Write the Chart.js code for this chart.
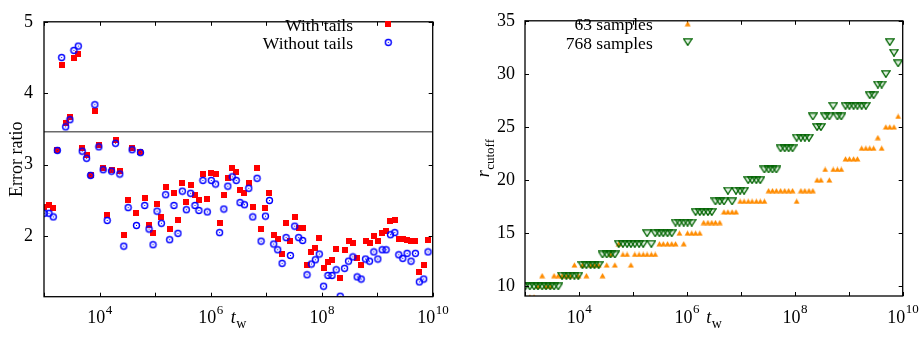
<!DOCTYPE html>
<html>
<head>
<meta charset="utf-8">
<style>
    body { margin: 0; background: #fff; }
    .panel { position: absolute; top: 0; width: 462px; height: 337px; }
</style>
</head>
<body>
<div class="panel" style="left: 0;"><canvas id="ratio_chart" width="462" height="337"></canvas></div>
<div class="panel" style="left: 462px;"><canvas id="cutoff_chart" width="462" height="337"></canvas></div>

<script src="https://cdn.jsdelivr.net/npm/chart.js"></script>

<script>
    // log10 of the waiting time t_w for every measurement
    var logTw = [3.005, 3.09, 3.167, 3.24, 3.318, 3.39, 3.467, 3.539, 3.617, 3.688, 3.767, 3.839, 3.916, 3.988,
        4.065, 4.138, 4.216, 4.288, 4.365, 4.437, 4.515, 4.586, 4.665, 4.737, 4.814, 4.892, 4.963,
        5.035, 5.114, 5.191, 5.263, 5.341, 5.413, 5.491, 5.563, 5.641, 5.719, 5.79, 5.862, 5.941,
        6.012, 6.09, 6.162, 6.239, 6.311, 6.39, 6.462, 6.53, 6.61, 6.688, 6.76, 6.838, 6.91, 6.988,
        7.06, 7.137, 7.209, 7.288, 7.36, 7.437, 7.515, 7.586, 7.658, 7.737, 7.814, 7.886, 7.958,
        8.035, 8.114, 8.186, 8.263, 8.335, 8.413, 8.484, 8.563, 8.64, 8.712, 8.79, 8.862, 8.94,
        9.012, 9.09, 9.161, 9.239, 9.317, 9.389, 9.461, 9.539, 9.61, 9.688, 9.76, 9.838, 9.916];

    // error ratio
    var withTails = [2.41, 2.44, 2.39, 3.2, 4.40, 3.58, 3.67, 4.49, 4.55, 3.23, 3.13, 2.85, 3.75, 3.27,
        2.96, 2.30, 2.92, 3.35, 2.91, 2.01, 2.50, 3.24, 2.32, 3.18, 2.54, 2.16, 2.04,
        2.45, 2.27, 2.69, 2.10, 2.60, 2.23, 2.74, 2.48, 2.71, 2.58, 2.51, 2.87, 2.52,
        2.89, 2.87, 2.18, 2.57, 2.82, 2.95, 2.90, 2.64, 2.60, 2.75, 2.41, 2.95, 2.10, 2.39,
        2.61, 2.02, 1.96, 1.75, 2.19, 1.93, 2.27, 2.12, 2.11, 1.60, 1.78, 1.83, 1.98,
        1.56, 1.64, 1.67, 1.82, 1.41, 1.80, 1.93, 1.91, 1.69, 1.60, 1.93, 1.91, 2.00,
        1.93, 2.04, 2.07, 2.21, 2.23, 1.96, 1.96, 1.95, 1.93, 1.93, 1.50, 1.60, 1.94];
    var withoutTails = [2.32, 2.32, 2.27, 3.2, 4.50, 3.53, 3.63, 4.60, 4.66, 3.19, 3.09, 2.85, 3.84, 3.25,
        2.93, 2.22, 2.91, 3.30, 2.87, 1.86, 2.40, 3.21, 2.15, 3.17, 2.43, 2.10, 1.88,
        2.35, 2.18, 2.58, 1.95, 2.43, 2.04, 2.63, 2.37, 2.60, 2.43, 2.36, 2.78, 2.34,
        2.78, 2.73, 2.05, 2.38, 2.70, 2.83, 2.78, 2.47, 2.44, 2.67, 2.27, 2.81, 1.93, 2.28,
        2.50, 1.89, 1.81, 1.62, 1.98, 1.73, 2.14, 1.98, 1.94, 1.46, 1.61, 1.67, 1.75,
        1.30, 1.45, 1.45, 1.53, 1.16, 1.55, 1.65, 1.71, 1.43, 1.40, 1.68, 1.65, 1.78,
        1.68, 1.81, 1.81, 2.02, 2.05, 1.74, 1.69, 1.76, 1.65, 1.76, 1.36, 1.40, 1.78];
    var tailLevel = 3.46;

    // r_cutoff
    var cutoff63 = [9, 9, 9, 10, 11, 10, 10, 11, 11, 11, 11, 11, 12, 11,
        12, 11, 12, 12, 12, 11, 12, 13, 12, 14, 13, 13, 12,
        13, 13, 13, 13, 13, 13, 14, 14, 14, 14, 14, 15, 14,
        15, 15, 15, 15, 16, 16, 16, 16, 16, 17, 17, 17, 17, 18,
        18, 18, 18, 18, 18, 18, 19, 19, 19, 19, 19, 19, 19,
        18, 19, 19, 19, 19, 20, 20, 21, 20, 21, 21, 21, 22,
        22, 22, 22, 23, 23, 23, 23, 24, 23, 25, 25, 25, 26];
    var cutoff768 = [10, 10, 10, 10, 10, 10, 10, 10, 10, 11, 11, 11, 11, 11,
        12, 12, 12, 12, 12, 13, 13, 13, 13, 14, 14, 14, 14,
        14, 14, 14, 15, 14, 15, 15, 15, 15, 15, 16, 16, 16,
        16, 16, 17, 17, 17, 17, 17, 18, 18, 18, 19, 18, 19, 19,
        19, 20, 20, 20, 20, 21, 21, 21, 21, 23, 23, 23, 23,
        24, 24, 24, 24, 26, 25, 25, 26, 26, 27, 26, 26, 27,
        27, 27, 27, 27, 27, 28, 28, 29, 29, 30, 33, 32, 31];

    var decadeTicks = [3, 4, 5, 6, 7, 8, 9, 10];
    var labelledDecades = [4, 6, 8, 10];

    var serif = "'Liberation Serif', 'Times New Roman', serif";

    function points(values) {
        return values.map((v, i) => ({x: Math.pow(10, logTw[i]), y: v}));
    }

    // small canvases used as point styles (and legend keys)
    function makeMarker(kind) {
        var c = document.createElement('canvas');
        var g;
        if (kind === 'square') {
            c.width = 6; c.height = 6;
            g = c.getContext('2d');
            g.fillStyle = '#ff0000';
            g.fillRect(0, 0, 6, 6);
        } else if (kind === 'circleDot') {
            c.width = 9; c.height = 9;
            g = c.getContext('2d');
            g.strokeStyle = '#0000ff';
            g.lineWidth = 1.4;
            g.beginPath();
            g.arc(4.5, 4.5, 3, 0, 2 * Math.PI);
            g.stroke();
            g.fillStyle = '#0000ff';
            g.fillRect(4, 4, 1, 1);
        } else if (kind === 'triUp') {
            c.width = 7; c.height = 6;
            g = c.getContext('2d');
            g.fillStyle = '#ff8c00';
            g.beginPath();
            g.moveTo(0.5, 5.6); g.lineTo(6.5, 5.6); g.lineTo(3.5, 0.3);
            g.closePath();
            g.fill();
        } else {
            c.width = 10; c.height = 8;
            g = c.getContext('2d');
            g.fillStyle = 'rgba(0, 120, 0, 0.12)';
            g.strokeStyle = '#006400';
            g.lineWidth = 1.3;
            g.beginPath();
            g.moveTo(0.8, 0.8); g.lineTo(9.2, 0.8); g.lineTo(5, 7.4);
            g.closePath();
            g.fill();
            g.stroke();
        }
        return c;
    }

    var markers = {
        square: makeMarker('square'),
        circleDot: makeMarker('circleDot'),
        triUp: makeMarker('triUp'),
        triDown: makeMarker('triDown')
    };

    // frame with inward tics, 10^n labels, axis titles and legend
    var annotate = {
        id: 'annotate',
        afterDraw(chart, args, o) {
            var ctx = chart.ctx, a = chart.chartArea, xs = chart.scales.x, ys = chart.scales.y;
            ctx.save();
            ctx.strokeStyle = '#000';
            ctx.lineWidth = 1;
            ctx.beginPath();
            decadeTicks.forEach(e => {
                var px = Math.round(xs.getPixelForValue(Math.pow(10, e))) + 0.5;
                ctx.moveTo(px, a.bottom); ctx.lineTo(px, a.bottom - 4);
                ctx.moveTo(px, a.top); ctx.lineTo(px, a.top + 4);
            });
            ys.ticks.forEach(t => {
                var py = Math.round(ys.getPixelForValue(t.value)) + 0.5;
                ctx.moveTo(a.left, py); ctx.lineTo(a.left + 4, py);
                ctx.moveTo(a.right, py); ctx.lineTo(a.right - 4, py);
            });
            ctx.stroke();
            ctx.lineWidth = 1.3;
            ctx.strokeRect(a.left, a.top, a.right - a.left, a.bottom - a.top);

            ctx.fillStyle = '#000';
            ctx.textAlign = 'left';
            ctx.textBaseline = 'alphabetic';
            var base = a.bottom + 26.5;
            labelledDecades.forEach(e => {
                var px = xs.getPixelForValue(Math.pow(10, e));
                ctx.font = '18px ' + serif;
                var w1 = ctx.measureText('10').width;
                ctx.font = '13px ' + serif;
                var w2 = ctx.measureText(String(e)).width;
                var x0 = px - (w1 + w2) / 2;
                ctx.font = '18px ' + serif;
                ctx.fillText('10', x0, base);
                ctx.font = '13px ' + serif;
                ctx.fillText(String(e), x0 + w1 + 0.5, base - 9.5);
            });

            // x title: t_w
            var cx = (a.left + a.right) / 2;
            ctx.font = 'italic 18px ' + serif;
            var wt = ctx.measureText('t').width;
            ctx.font = '14px ' + serif;
            var ww = ctx.measureText('w').width;
            var tx = cx - (wt + ww) / 2;
            ctx.font = 'italic 18px ' + serif;
            ctx.fillText('t', tx, base);
            ctx.font = '14px ' + serif;
            ctx.fillText('w', tx + wt + 0.5, base + 5);

            // y title
            var cy = (a.top + a.bottom) / 2;
            ctx.save();
            ctx.translate(o.yTitleX, cy);
            ctx.rotate(-Math.PI / 2);
            if (o.yTitleSub) {
                ctx.font = 'italic 18px ' + serif;
                var wm = ctx.measureText(o.yTitle).width;
                ctx.font = '13px ' + serif;
                var ws = ctx.measureText(o.yTitleSub).width;
                var sx = -(wm + ws) / 2;
                ctx.font = 'italic 18px ' + serif;
                ctx.fillText(o.yTitle, sx, 0);
                ctx.font = '13px ' + serif;
                ctx.fillText(o.yTitleSub, sx + wm + 0.5, 5);
            } else {
                ctx.font = '18px ' + serif;
                ctx.textAlign = 'center';
                ctx.fillText(o.yTitle, 0, 0);
            }
            ctx.restore();

            // key
            ctx.font = '17.5px ' + serif;
            ctx.textAlign = 'right';
            o.legend.forEach((item, i) => {
                var y = o.legendTop + i * 18.2;
                ctx.fillText(item.text, o.legendTextX, y + 6.5);
                var m = markers[item.marker];
                ctx.drawImage(m, o.legendMarkerX - m.width / 2, y - m.height / 2);
            });
            ctx.restore();
        }
    };

    function xAxis(height) {
        return {
            type: 'logarithmic',
            min: 1e3,
            max: 1e10,
            grid: {display: false, drawTicks: false},
            border: {display: false},
            ticks: {display: false},
            afterFit: s => { s.height = height; }
        };
    }

    function yAxis(min, max, step, width, pad) {
        return {
            type: 'linear',
            min: min,
            max: max,
            grid: {display: false, drawTicks: false},
            border: {display: false},
            ticks: {
                stepSize: step,
                includeBounds: false,
                padding: pad,
                color: '#000',
                font: {family: serif, size: 18}
            },
            afterFit: s => { s.width = width; }
        };
    }

    var ratioChart = new Chart(document.getElementById('ratio_chart'), {
        type: 'scatter',
        data: {
            datasets: [
                {
                    label: 'With tails',
                    data: points(withTails),
                    pointStyle: markers.square,
                    pointRadius: 4,
                    order: 1
                },
                {
                    label: 'Without tails',
                    data: points(withoutTails),
                    pointStyle: markers.circleDot,
                    pointRadius: 4,
                    order: 0
                },
                {
                    label: 'tail level',
                    data: [{x: 1e3, y: tailLevel}, {x: 1e10, y: tailLevel}],
                    showLine: true,
                    borderColor: '#6a6a6a',
                    borderWidth: 1.5,
                    pointRadius: 0,
                    order: 2
                }
            ]
        },
        options: {
            responsive: false,
            animation: false,
            events: [],
            layout: {padding: {top: 12, right: 29.3, left: 0, bottom: 0}},
            scales: {
                x: xAxis(40.3),
                y: yAxis(1.153, 5, 1, 44, 11)
            },
            plugins: {
                legend: {display: false},
                tooltip: {enabled: false},
                annotate: {
                    yTitle: 'Error ratio',
                    yTitleX: 21.5,
                    legend: [{text: 'With tails', marker: 'square'}, {text: 'Without tails', marker: 'circleDot'}],
                    legendTop: 24.2,
                    legendTextX: 353,
                    legendMarkerX: 388.3
                }
            }
        },
        plugins: [annotate]
    });

    var cutoffChart = new Chart(document.getElementById('cutoff_chart'), {
        type: 'scatter',
        data: {
            datasets: [
                {
                    label: '63 samples',
                    data: points(cutoff63),
                    pointStyle: markers.triUp,
                    pointRadius: 4,
                    order: 1
                },
                {
                    label: '768 samples',
                    data: points(cutoff768),
                    pointStyle: markers.triDown,
                    pointRadius: 4,
                    order: 0
                }
            ]
        },
        options: {
            responsive: false,
            animation: false,
            events: [],
            layout: {padding: {top: 12, right: 21.3, left: 0, bottom: 0}},
            scales: {
                x: xAxis(41),
                y: yAxis(9.09, 35, 5, 63, 10)
            },
            plugins: {
                legend: {display: false},
                tooltip: {enabled: false},
                annotate: {
                    yTitle: 'r',
                    yTitleSub: 'cutoff',
                    yTitleX: 27,
                    legend: [{text: '63 samples', marker: 'triUp'}, {text: '768 samples', marker: 'triDown'}],
                    legendTop: 23.8,
                    legendTextX: 190.7,
                    legendMarkerX: 225.7
                }
            }
        },
        plugins: [annotate]
    });
</script>
</body>
</html>
